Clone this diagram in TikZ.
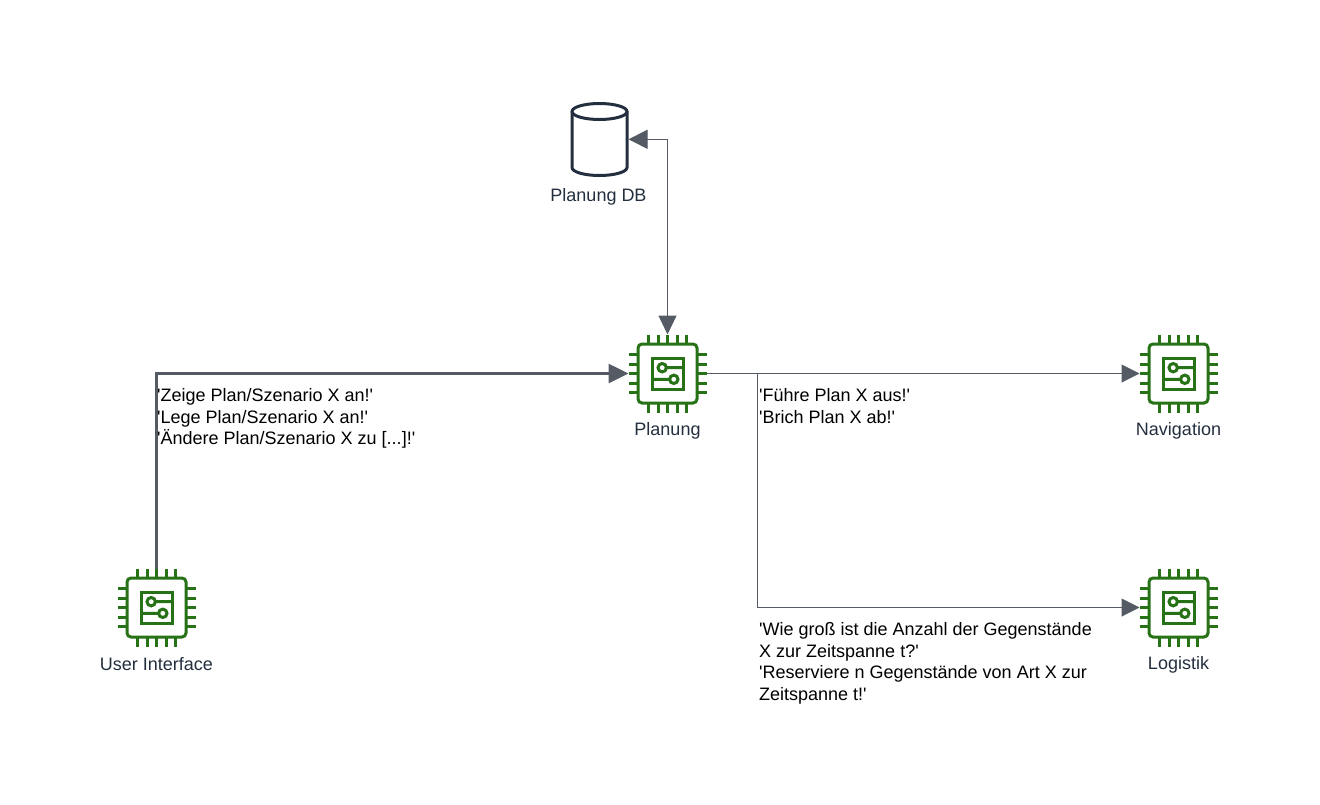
\documentclass[tikz,border=0pt]{standalone}
\usepackage{fontspec}
\setmainfont{Liberation Sans}[Ligatures=TeXOff]
\usepackage{xcolor}
\usetikzlibrary{arrows.meta}
\definecolor{chipgreen}{HTML}{277116}
\definecolor{awsdark}{HTML}{232F3E}
\definecolor{linkgrey}{HTML}{545B64}
\tikzset{
  chipnode/.style={minimum size=78pt,inner sep=0pt,outer sep=0pt},
  chiplabel/.style={text=awsdark,font=\fontsize{18}{21}\selectfont,inner sep=0pt,anchor=center},
  msg/.style={text=black,font=\fontsize{18}{21.8}\selectfont,inner sep=0pt,anchor=north west,align=left},
  thinlink/.style={draw=linkgrey,line width=1pt,-{Triangle[length=18pt,width=18pt,fill=linkgrey]}},
  thicklink/.style={draw=linkgrey,line width=2.6pt,-{Triangle[length=20pt,width=19pt,fill=linkgrey]}},
  chip/.pic={
    \draw[chipgreen,line width=3pt,rounded corners=4pt] (-29.5,-29.5) rectangle (29.5,29.5);
    \draw[chipgreen,line width=3pt] (-15.5,-15.5) rectangle (15.5,15.5);
    \foreach \o in {-19,-9.5,0,9.5,19} {
      \draw[chipgreen,line width=3pt] (\o,-39) -- (\o,-29.5) (\o,29.5) -- (\o,39)
        (-39,\o) -- (-29.5,\o) (29.5,\o) -- (39,\o);
    }
    \draw[chipgreen,line width=3pt] (-5.3,-5.8) circle (4.2) (6.3,5.8) circle (4.2)
      (-1.1,-5.8) -- (15.5,-5.8) (-15.5,5.8) -- (2.1,5.8);
  }
}
\begin{document}
\begin{tikzpicture}[x=1pt,y=-1pt]
  \useasboundingbox (0,0) rectangle (1320,804);

  % chips
  \node[chipnode] (planung) at (667.5,373.5) {};
  \node[chipnode] (navigation) at (1178.5,373.5) {};
  \node[chipnode] (logistik) at (1178.5,607.5) {};
  \node[chipnode] (ui) at (156.5,607.5) {};
  \pic at (planung) {chip};
  \pic at (navigation) {chip};
  \pic at (logistik) {chip};
  \pic at (ui) {chip};

  % database
  \node[minimum width=58pt,minimum height=76pt,inner sep=0pt,outer sep=0pt] (db) at (599.5,139.3) {};
  \draw[awsdark,line width=3pt] (599.5,111.5) ellipse [x radius=27.5,y radius=8];
  \draw[awsdark,line width=3pt] (572,111.5) -- (572,167.5) arc[start angle=180,end angle=0,x radius=27.5,y radius=8] -- (627,111.5);

  % labels
  \node[chiplabel] (planunglabel) at (667.5,430.5) {Planung};
  \node[chiplabel] (navigationlabel) at (1178.5,430.5) {Navigation};
  \node[chiplabel] (logistiklabel) at (1178.5,664.5) {Logistik};
  \node[chiplabel] (uilabel) at (156.5,664.5) {User Interface};
  \node[chiplabel] (dblabel) at (598.5,196.5) {Planung DB};

  % connectors
  \draw[thicklink] (ui.north) |- (planung.west);
  \draw[thinlink,{Triangle[length=19pt,width=19pt,fill=linkgrey]}-{Triangle[length=19pt,width=18pt,fill=linkgrey]}] (db.east) -| (planung.north);
  \draw[thinlink] (planung.east) -- (navigation.west);
  \draw[thinlink] (planung.east) -- (757.5,373.5) |- (logistik.west);

  % messages
  \node[msg] (uimsg) at (157,388) {'Zeige Plan/Szenario X an!'\\'Lege Plan/Szenario X an!'\\'Ändere Plan/Szenario X zu [...]!'};
  \node[msg] (navmsg) at (759,388) {'Führe Plan X aus!'\\'Brich Plan X ab!'};
  \node[msg] (logmsg) at (759,622) {'Wie groß ist die Anzahl der Gegenstände\\X zur Zeitspanne t?'\\'Reserviere n Gegenstände von Art X zur\\Zeitspanne t!'};
\end{tikzpicture}
\end{document}
